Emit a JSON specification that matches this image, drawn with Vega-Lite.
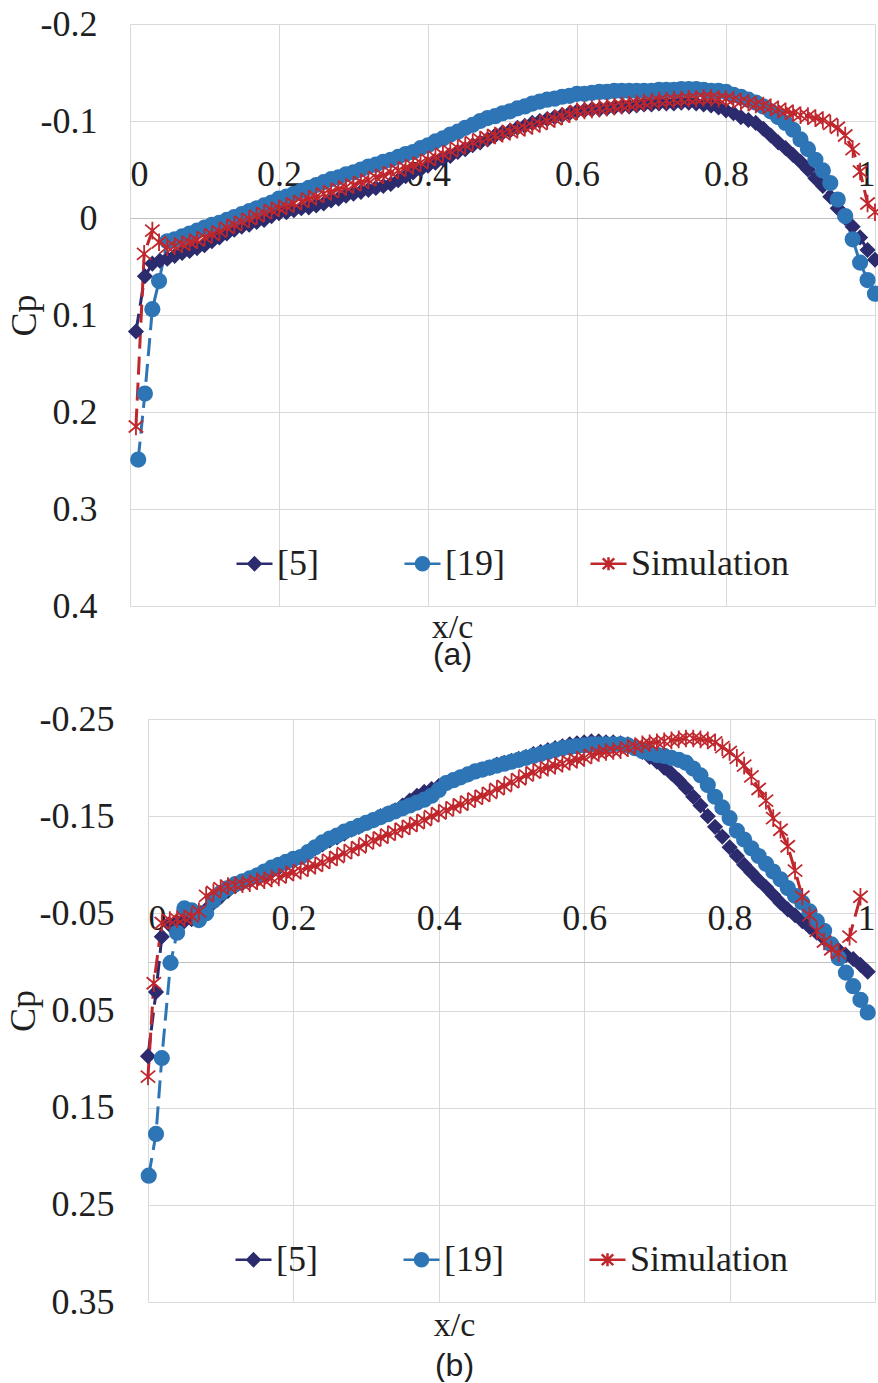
{
"$schema": "https://vega.github.io/schema/vega-lite/v6.json",
"background": "white",
"padding": {"top": 6, "left": 5, "right": 0, "bottom": 0},
"config": {"view": {"stroke": null}},
"datasets": {
"a": [
{"s":"[5]","x":0.008,"y":0.117},{"s":"[5]","x":0.02,"y":0.06},{"s":"[5]","x":0.03,"y":0.047},{"s":"[5]","x":0.04,"y":0.044},
{"s":"[5]","x":0.05,"y":0.042},{"s":"[5]","x":0.06,"y":0.039},{"s":"[5]","x":0.07,"y":0.036},{"s":"[5]","x":0.08,"y":0.034},{"s":"[5]","x":0.09,"y":0.031},
{"s":"[5]","x":0.1,"y":0.028},{"s":"[5]","x":0.11,"y":0.024},{"s":"[5]","x":0.12,"y":0.02},{"s":"[5]","x":0.13,"y":0.016},{"s":"[5]","x":0.14,"y":0.012},
{"s":"[5]","x":0.15,"y":0.009},{"s":"[5]","x":0.16,"y":0.007},{"s":"[5]","x":0.17,"y":0.004},{"s":"[5]","x":0.18,"y":0.002},{"s":"[5]","x":0.19,"y":-0.002},
{"s":"[5]","x":0.2,"y":-0.005},{"s":"[5]","x":0.21,"y":-0.006},{"s":"[5]","x":0.22,"y":-0.008},{"s":"[5]","x":0.23,"y":-0.01},{"s":"[5]","x":0.24,"y":-0.011},
{"s":"[5]","x":0.25,"y":-0.013},{"s":"[5]","x":0.26,"y":-0.015},{"s":"[5]","x":0.27,"y":-0.018},{"s":"[5]","x":0.28,"y":-0.02},{"s":"[5]","x":0.29,"y":-0.023},
{"s":"[5]","x":0.3,"y":-0.025},{"s":"[5]","x":0.31,"y":-0.027},{"s":"[5]","x":0.32,"y":-0.029},{"s":"[5]","x":0.33,"y":-0.031},{"s":"[5]","x":0.34,"y":-0.033},
{"s":"[5]","x":0.35,"y":-0.035},{"s":"[5]","x":0.36,"y":-0.039},{"s":"[5]","x":0.37,"y":-0.043},{"s":"[5]","x":0.38,"y":-0.047},{"s":"[5]","x":0.39,"y":-0.05},
{"s":"[5]","x":0.4,"y":-0.054},{"s":"[5]","x":0.41,"y":-0.057},{"s":"[5]","x":0.42,"y":-0.061},{"s":"[5]","x":0.43,"y":-0.064},{"s":"[5]","x":0.44,"y":-0.068},
{"s":"[5]","x":0.45,"y":-0.071},{"s":"[5]","x":0.46,"y":-0.075},{"s":"[5]","x":0.47,"y":-0.078},{"s":"[5]","x":0.48,"y":-0.081},{"s":"[5]","x":0.49,"y":-0.085},
{"s":"[5]","x":0.5,"y":-0.088},{"s":"[5]","x":0.51,"y":-0.09},{"s":"[5]","x":0.52,"y":-0.093},{"s":"[5]","x":0.53,"y":-0.095},{"s":"[5]","x":0.54,"y":-0.098},
{"s":"[5]","x":0.55,"y":-0.1},{"s":"[5]","x":0.56,"y":-0.102},{"s":"[5]","x":0.57,"y":-0.104},{"s":"[5]","x":0.58,"y":-0.106},{"s":"[5]","x":0.59,"y":-0.108},
{"s":"[5]","x":0.6,"y":-0.11},{"s":"[5]","x":0.61,"y":-0.111},{"s":"[5]","x":0.62,"y":-0.112},{"s":"[5]","x":0.63,"y":-0.112},{"s":"[5]","x":0.64,"y":-0.113},
{"s":"[5]","x":0.65,"y":-0.114},{"s":"[5]","x":0.66,"y":-0.115},{"s":"[5]","x":0.67,"y":-0.115},{"s":"[5]","x":0.68,"y":-0.116},{"s":"[5]","x":0.69,"y":-0.117},
{"s":"[5]","x":0.7,"y":-0.117},{"s":"[5]","x":0.71,"y":-0.118},{"s":"[5]","x":0.72,"y":-0.118},{"s":"[5]","x":0.73,"y":-0.118},{"s":"[5]","x":0.74,"y":-0.119},
{"s":"[5]","x":0.75,"y":-0.119},{"s":"[5]","x":0.76,"y":-0.118},{"s":"[5]","x":0.77,"y":-0.117},{"s":"[5]","x":0.78,"y":-0.116},{"s":"[5]","x":0.79,"y":-0.114},
{"s":"[5]","x":0.8,"y":-0.111},{"s":"[5]","x":0.81,"y":-0.108},{"s":"[5]","x":0.82,"y":-0.104},{"s":"[5]","x":0.83,"y":-0.101},{"s":"[5]","x":0.84,"y":-0.098},
{"s":"[5]","x":0.85,"y":-0.092},{"s":"[5]","x":0.86,"y":-0.085},{"s":"[5]","x":0.87,"y":-0.078},{"s":"[5]","x":0.88,"y":-0.072},{"s":"[5]","x":0.89,"y":-0.065},
{"s":"[5]","x":0.9,"y":-0.058},{"s":"[5]","x":0.91,"y":-0.05},{"s":"[5]","x":0.92,"y":-0.041},{"s":"[5]","x":0.93,"y":-0.033},{"s":"[5]","x":0.94,"y":-0.022},
{"s":"[5]","x":0.95,"y":-0.01},{"s":"[5]","x":0.96,"y":0.0},{"s":"[5]","x":0.97,"y":0.009},{"s":"[5]","x":0.98,"y":0.02},{"s":"[5]","x":0.99,"y":0.033},{"s":"[5]","x":1.0,"y":0.043},
{"s":"[19]","x":0.011,"y":0.249},{"s":"[19]","x":0.02,"y":0.181},{"s":"[19]","x":0.03,"y":0.094},{"s":"[19]","x":0.039,"y":0.065},
{"s":"[19]","x":0.05,"y":0.024},{"s":"[19]","x":0.06,"y":0.022},{"s":"[19]","x":0.07,"y":0.019},{"s":"[19]","x":0.08,"y":0.016},{"s":"[19]","x":0.09,"y":0.013},
{"s":"[19]","x":0.1,"y":0.01},{"s":"[19]","x":0.11,"y":0.007},{"s":"[19]","x":0.12,"y":0.005},{"s":"[19]","x":0.13,"y":0.002},{"s":"[19]","x":0.14,"y":-0.001},
{"s":"[19]","x":0.15,"y":-0.004},{"s":"[19]","x":0.16,"y":-0.007},{"s":"[19]","x":0.17,"y":-0.01},{"s":"[19]","x":0.18,"y":-0.013},{"s":"[19]","x":0.19,"y":-0.016},
{"s":"[19]","x":0.2,"y":-0.02},{"s":"[19]","x":0.21,"y":-0.022},{"s":"[19]","x":0.22,"y":-0.025},{"s":"[19]","x":0.23,"y":-0.028},{"s":"[19]","x":0.24,"y":-0.031},
{"s":"[19]","x":0.25,"y":-0.034},{"s":"[19]","x":0.26,"y":-0.037},{"s":"[19]","x":0.27,"y":-0.04},{"s":"[19]","x":0.28,"y":-0.042},{"s":"[19]","x":0.29,"y":-0.045},
{"s":"[19]","x":0.3,"y":-0.047},{"s":"[19]","x":0.31,"y":-0.05},{"s":"[19]","x":0.32,"y":-0.053},{"s":"[19]","x":0.33,"y":-0.055},{"s":"[19]","x":0.34,"y":-0.058},
{"s":"[19]","x":0.35,"y":-0.06},{"s":"[19]","x":0.36,"y":-0.063},{"s":"[19]","x":0.37,"y":-0.066},{"s":"[19]","x":0.38,"y":-0.068},{"s":"[19]","x":0.39,"y":-0.072},
{"s":"[19]","x":0.4,"y":-0.075},{"s":"[19]","x":0.41,"y":-0.079},{"s":"[19]","x":0.42,"y":-0.082},{"s":"[19]","x":0.43,"y":-0.086},{"s":"[19]","x":0.44,"y":-0.089},
{"s":"[19]","x":0.45,"y":-0.093},{"s":"[19]","x":0.46,"y":-0.096},{"s":"[19]","x":0.47,"y":-0.1},{"s":"[19]","x":0.48,"y":-0.103},{"s":"[19]","x":0.49,"y":-0.105},
{"s":"[19]","x":0.5,"y":-0.108},{"s":"[19]","x":0.51,"y":-0.11},{"s":"[19]","x":0.52,"y":-0.113},{"s":"[19]","x":0.53,"y":-0.115},{"s":"[19]","x":0.54,"y":-0.118},
{"s":"[19]","x":0.55,"y":-0.12},{"s":"[19]","x":0.56,"y":-0.122},{"s":"[19]","x":0.57,"y":-0.123},{"s":"[19]","x":0.58,"y":-0.125},{"s":"[19]","x":0.59,"y":-0.126},
{"s":"[19]","x":0.6,"y":-0.128},{"s":"[19]","x":0.61,"y":-0.128},{"s":"[19]","x":0.62,"y":-0.129},{"s":"[19]","x":0.63,"y":-0.13},{"s":"[19]","x":0.64,"y":-0.13},
{"s":"[19]","x":0.65,"y":-0.131},{"s":"[19]","x":0.66,"y":-0.131},{"s":"[19]","x":0.67,"y":-0.131},{"s":"[19]","x":0.68,"y":-0.131},{"s":"[19]","x":0.69,"y":-0.131},
{"s":"[19]","x":0.7,"y":-0.131},{"s":"[19]","x":0.71,"y":-0.132},{"s":"[19]","x":0.72,"y":-0.132},{"s":"[19]","x":0.73,"y":-0.132},{"s":"[19]","x":0.74,"y":-0.133},
{"s":"[19]","x":0.75,"y":-0.133},{"s":"[19]","x":0.76,"y":-0.133},{"s":"[19]","x":0.77,"y":-0.132},{"s":"[19]","x":0.78,"y":-0.131},{"s":"[19]","x":0.79,"y":-0.131},
{"s":"[19]","x":0.8,"y":-0.13},{"s":"[19]","x":0.81,"y":-0.127},{"s":"[19]","x":0.82,"y":-0.125},{"s":"[19]","x":0.83,"y":-0.122},{"s":"[19]","x":0.84,"y":-0.119},
{"s":"[19]","x":0.85,"y":-0.115},{"s":"[19]","x":0.86,"y":-0.11},{"s":"[19]","x":0.87,"y":-0.104},{"s":"[19]","x":0.88,"y":-0.098},{"s":"[19]","x":0.89,"y":-0.091},
{"s":"[19]","x":0.9,"y":-0.081},{"s":"[19]","x":0.91,"y":-0.071},{"s":"[19]","x":0.92,"y":-0.06},{"s":"[19]","x":0.93,"y":-0.049},{"s":"[19]","x":0.94,"y":-0.036},
{"s":"[19]","x":0.95,"y":-0.019},{"s":"[19]","x":0.96,"y":-0.002},{"s":"[19]","x":0.97,"y":0.022},{"s":"[19]","x":0.98,"y":0.046},{"s":"[19]","x":0.99,"y":0.064},{"s":"[19]","x":1.0,"y":0.078},
{"s":"Simulation","x":0.008,"y":0.215},{"s":"Simulation","x":0.019,"y":0.037},{"s":"Simulation","x":0.03,"y":0.013},{"s":"Simulation","x":0.039,"y":0.025},
{"s":"Simulation","x":0.05,"y":0.03},{"s":"Simulation","x":0.06,"y":0.029},{"s":"Simulation","x":0.07,"y":0.027},{"s":"Simulation","x":0.08,"y":0.025},{"s":"Simulation","x":0.09,"y":0.023},
{"s":"Simulation","x":0.1,"y":0.02},{"s":"Simulation","x":0.11,"y":0.017},{"s":"Simulation","x":0.12,"y":0.014},{"s":"Simulation","x":0.13,"y":0.01},{"s":"Simulation","x":0.14,"y":0.007},
{"s":"Simulation","x":0.15,"y":0.004},{"s":"Simulation","x":0.16,"y":0.001},{"s":"Simulation","x":0.17,"y":-0.002},{"s":"Simulation","x":0.18,"y":-0.005},{"s":"Simulation","x":0.19,"y":-0.008},
{"s":"Simulation","x":0.2,"y":-0.01},{"s":"Simulation","x":0.21,"y":-0.012},{"s":"Simulation","x":0.22,"y":-0.015},{"s":"Simulation","x":0.23,"y":-0.017},{"s":"Simulation","x":0.24,"y":-0.02},
{"s":"Simulation","x":0.25,"y":-0.022},{"s":"Simulation","x":0.26,"y":-0.025},{"s":"Simulation","x":0.27,"y":-0.027},{"s":"Simulation","x":0.28,"y":-0.03},{"s":"Simulation","x":0.29,"y":-0.032},
{"s":"Simulation","x":0.3,"y":-0.034},{"s":"Simulation","x":0.31,"y":-0.037},{"s":"Simulation","x":0.32,"y":-0.039},{"s":"Simulation","x":0.33,"y":-0.042},{"s":"Simulation","x":0.34,"y":-0.044},
{"s":"Simulation","x":0.35,"y":-0.047},{"s":"Simulation","x":0.36,"y":-0.049},{"s":"Simulation","x":0.37,"y":-0.052},{"s":"Simulation","x":0.38,"y":-0.054},{"s":"Simulation","x":0.39,"y":-0.057},
{"s":"Simulation","x":0.4,"y":-0.06},{"s":"Simulation","x":0.41,"y":-0.063},{"s":"Simulation","x":0.42,"y":-0.066},{"s":"Simulation","x":0.43,"y":-0.069},{"s":"Simulation","x":0.44,"y":-0.072},
{"s":"Simulation","x":0.45,"y":-0.075},{"s":"Simulation","x":0.46,"y":-0.078},{"s":"Simulation","x":0.47,"y":-0.081},{"s":"Simulation","x":0.48,"y":-0.083},{"s":"Simulation","x":0.49,"y":-0.085},
{"s":"Simulation","x":0.5,"y":-0.087},{"s":"Simulation","x":0.51,"y":-0.089},{"s":"Simulation","x":0.52,"y":-0.091},{"s":"Simulation","x":0.53,"y":-0.093},{"s":"Simulation","x":0.54,"y":-0.095},
{"s":"Simulation","x":0.55,"y":-0.097},{"s":"Simulation","x":0.56,"y":-0.1},{"s":"Simulation","x":0.57,"y":-0.102},{"s":"Simulation","x":0.58,"y":-0.105},{"s":"Simulation","x":0.59,"y":-0.107},
{"s":"Simulation","x":0.6,"y":-0.11},{"s":"Simulation","x":0.61,"y":-0.111},{"s":"Simulation","x":0.62,"y":-0.112},{"s":"Simulation","x":0.63,"y":-0.113},{"s":"Simulation","x":0.64,"y":-0.114},
{"s":"Simulation","x":0.65,"y":-0.115},{"s":"Simulation","x":0.66,"y":-0.116},{"s":"Simulation","x":0.67,"y":-0.117},{"s":"Simulation","x":0.68,"y":-0.118},{"s":"Simulation","x":0.69,"y":-0.119},
{"s":"Simulation","x":0.7,"y":-0.12},{"s":"Simulation","x":0.71,"y":-0.121},{"s":"Simulation","x":0.72,"y":-0.121},{"s":"Simulation","x":0.73,"y":-0.122},{"s":"Simulation","x":0.74,"y":-0.122},
{"s":"Simulation","x":0.75,"y":-0.123},{"s":"Simulation","x":0.76,"y":-0.123},{"s":"Simulation","x":0.77,"y":-0.124},{"s":"Simulation","x":0.78,"y":-0.124},{"s":"Simulation","x":0.79,"y":-0.123},
{"s":"Simulation","x":0.8,"y":-0.123},{"s":"Simulation","x":0.81,"y":-0.122},{"s":"Simulation","x":0.82,"y":-0.12},{"s":"Simulation","x":0.83,"y":-0.119},{"s":"Simulation","x":0.84,"y":-0.117},
{"s":"Simulation","x":0.85,"y":-0.116},{"s":"Simulation","x":0.86,"y":-0.114},{"s":"Simulation","x":0.87,"y":-0.112},{"s":"Simulation","x":0.88,"y":-0.11},{"s":"Simulation","x":0.89,"y":-0.108},
{"s":"Simulation","x":0.9,"y":-0.106},{"s":"Simulation","x":0.91,"y":-0.105},{"s":"Simulation","x":0.92,"y":-0.103},{"s":"Simulation","x":0.93,"y":-0.101},{"s":"Simulation","x":0.94,"y":-0.097},
{"s":"Simulation","x":0.95,"y":-0.093},{"s":"Simulation","x":0.96,"y":-0.085},{"s":"Simulation","x":0.97,"y":-0.071},{"s":"Simulation","x":0.98,"y":-0.048},{"s":"Simulation","x":0.99,"y":-0.015},{"s":"Simulation","x":1.0,"y":-0.006}
],
"b": [
{"s":"[5]","x":0.0,"y":0.097},{"s":"[5]","x":0.011,"y":0.031},{"s":"[5]","x":0.019,"y":-0.026},{"s":"[5]","x":0.03,"y":-0.038},{"s":"[5]","x":0.04,"y":-0.041},
{"s":"[5]","x":0.05,"y":-0.042},{"s":"[5]","x":0.06,"y":-0.044},{"s":"[5]","x":0.07,"y":-0.047},{"s":"[5]","x":0.08,"y":-0.054},{"s":"[5]","x":0.09,"y":-0.061},
{"s":"[5]","x":0.1,"y":-0.067},{"s":"[5]","x":0.11,"y":-0.073},{"s":"[5]","x":0.12,"y":-0.078},{"s":"[5]","x":0.13,"y":-0.081},{"s":"[5]","x":0.14,"y":-0.084},
{"s":"[5]","x":0.15,"y":-0.087},{"s":"[5]","x":0.16,"y":-0.09},{"s":"[5]","x":0.17,"y":-0.094},{"s":"[5]","x":0.18,"y":-0.097},{"s":"[5]","x":0.19,"y":-0.101},
{"s":"[5]","x":0.2,"y":-0.104},{"s":"[5]","x":0.21,"y":-0.108},{"s":"[5]","x":0.22,"y":-0.113},{"s":"[5]","x":0.23,"y":-0.117},{"s":"[5]","x":0.24,"y":-0.121},
{"s":"[5]","x":0.25,"y":-0.125},{"s":"[5]","x":0.26,"y":-0.128},{"s":"[5]","x":0.27,"y":-0.132},{"s":"[5]","x":0.28,"y":-0.136},{"s":"[5]","x":0.29,"y":-0.139},
{"s":"[5]","x":0.3,"y":-0.143},{"s":"[5]","x":0.31,"y":-0.146},{"s":"[5]","x":0.32,"y":-0.15},{"s":"[5]","x":0.33,"y":-0.153},{"s":"[5]","x":0.34,"y":-0.156},
{"s":"[5]","x":0.35,"y":-0.161},{"s":"[5]","x":0.36,"y":-0.166},{"s":"[5]","x":0.37,"y":-0.171},{"s":"[5]","x":0.38,"y":-0.175},{"s":"[5]","x":0.39,"y":-0.178},
{"s":"[5]","x":0.4,"y":-0.181},{"s":"[5]","x":0.41,"y":-0.184},{"s":"[5]","x":0.42,"y":-0.187},{"s":"[5]","x":0.43,"y":-0.19},{"s":"[5]","x":0.44,"y":-0.193},
{"s":"[5]","x":0.45,"y":-0.196},{"s":"[5]","x":0.46,"y":-0.198},{"s":"[5]","x":0.47,"y":-0.2},{"s":"[5]","x":0.48,"y":-0.203},{"s":"[5]","x":0.49,"y":-0.205},
{"s":"[5]","x":0.5,"y":-0.207},{"s":"[5]","x":0.51,"y":-0.209},{"s":"[5]","x":0.52,"y":-0.211},{"s":"[5]","x":0.53,"y":-0.214},{"s":"[5]","x":0.54,"y":-0.216},
{"s":"[5]","x":0.55,"y":-0.218},{"s":"[5]","x":0.56,"y":-0.22},{"s":"[5]","x":0.57,"y":-0.222},{"s":"[5]","x":0.58,"y":-0.224},{"s":"[5]","x":0.59,"y":-0.225},
{"s":"[5]","x":0.6,"y":-0.226},{"s":"[5]","x":0.61,"y":-0.227},{"s":"[5]","x":0.62,"y":-0.227},{"s":"[5]","x":0.63,"y":-0.226},{"s":"[5]","x":0.64,"y":-0.226},
{"s":"[5]","x":0.65,"y":-0.225},{"s":"[5]","x":0.66,"y":-0.224},{"s":"[5]","x":0.67,"y":-0.221},{"s":"[5]","x":0.68,"y":-0.216},{"s":"[5]","x":0.69,"y":-0.211},
{"s":"[5]","x":0.7,"y":-0.206},{"s":"[5]","x":0.71,"y":-0.2},{"s":"[5]","x":0.72,"y":-0.194},{"s":"[5]","x":0.73,"y":-0.187},{"s":"[5]","x":0.74,"y":-0.179},
{"s":"[5]","x":0.75,"y":-0.17},{"s":"[5]","x":0.76,"y":-0.161},{"s":"[5]","x":0.77,"y":-0.15},{"s":"[5]","x":0.78,"y":-0.139},{"s":"[5]","x":0.79,"y":-0.129},
{"s":"[5]","x":0.8,"y":-0.118},{"s":"[5]","x":0.81,"y":-0.109},{"s":"[5]","x":0.82,"y":-0.1},{"s":"[5]","x":0.83,"y":-0.092},{"s":"[5]","x":0.84,"y":-0.084},
{"s":"[5]","x":0.85,"y":-0.077},{"s":"[5]","x":0.86,"y":-0.069},{"s":"[5]","x":0.87,"y":-0.061},{"s":"[5]","x":0.88,"y":-0.054},{"s":"[5]","x":0.89,"y":-0.048},
{"s":"[5]","x":0.9,"y":-0.042},{"s":"[5]","x":0.91,"y":-0.036},{"s":"[5]","x":0.92,"y":-0.03},{"s":"[5]","x":0.93,"y":-0.024},{"s":"[5]","x":0.94,"y":-0.018},
{"s":"[5]","x":0.95,"y":-0.012},{"s":"[5]","x":0.96,"y":-0.007},{"s":"[5]","x":0.97,"y":-0.003},{"s":"[5]","x":0.98,"y":0.003},{"s":"[5]","x":0.99,"y":0.01},
{"s":"[19]","x":0.001,"y":0.22},{"s":"[19]","x":0.011,"y":0.177},{"s":"[19]","x":0.019,"y":0.099},{"s":"[19]","x":0.031,"y":0.001},{"s":"[19]","x":0.04,"y":-0.03},
{"s":"[19]","x":0.05,"y":-0.055},{"s":"[19]","x":0.06,"y":-0.053},{"s":"[19]","x":0.07,"y":-0.043},{"s":"[19]","x":0.08,"y":-0.05},{"s":"[19]","x":0.09,"y":-0.063},
{"s":"[19]","x":0.1,"y":-0.071},{"s":"[19]","x":0.11,"y":-0.076},{"s":"[19]","x":0.12,"y":-0.08},{"s":"[19]","x":0.13,"y":-0.083},{"s":"[19]","x":0.14,"y":-0.086},
{"s":"[19]","x":0.15,"y":-0.089},{"s":"[19]","x":0.16,"y":-0.093},{"s":"[19]","x":0.17,"y":-0.097},{"s":"[19]","x":0.18,"y":-0.1},{"s":"[19]","x":0.19,"y":-0.103},
{"s":"[19]","x":0.2,"y":-0.106},{"s":"[19]","x":0.21,"y":-0.108},{"s":"[19]","x":0.22,"y":-0.113},{"s":"[19]","x":0.23,"y":-0.118},{"s":"[19]","x":0.24,"y":-0.123},
{"s":"[19]","x":0.25,"y":-0.127},{"s":"[19]","x":0.26,"y":-0.13},{"s":"[19]","x":0.27,"y":-0.134},{"s":"[19]","x":0.28,"y":-0.137},{"s":"[19]","x":0.29,"y":-0.14},
{"s":"[19]","x":0.3,"y":-0.143},{"s":"[19]","x":0.31,"y":-0.146},{"s":"[19]","x":0.32,"y":-0.149},{"s":"[19]","x":0.33,"y":-0.152},{"s":"[19]","x":0.34,"y":-0.155},
{"s":"[19]","x":0.35,"y":-0.158},{"s":"[19]","x":0.36,"y":-0.161},{"s":"[19]","x":0.37,"y":-0.164},{"s":"[19]","x":0.38,"y":-0.167},{"s":"[19]","x":0.39,"y":-0.171},
{"s":"[19]","x":0.4,"y":-0.177},{"s":"[19]","x":0.41,"y":-0.184},{"s":"[19]","x":0.42,"y":-0.187},{"s":"[19]","x":0.43,"y":-0.19},{"s":"[19]","x":0.44,"y":-0.193},
{"s":"[19]","x":0.45,"y":-0.196},{"s":"[19]","x":0.46,"y":-0.198},{"s":"[19]","x":0.47,"y":-0.2},{"s":"[19]","x":0.48,"y":-0.202},{"s":"[19]","x":0.49,"y":-0.204},
{"s":"[19]","x":0.5,"y":-0.206},{"s":"[19]","x":0.51,"y":-0.208},{"s":"[19]","x":0.52,"y":-0.21},{"s":"[19]","x":0.53,"y":-0.212},{"s":"[19]","x":0.54,"y":-0.214},
{"s":"[19]","x":0.55,"y":-0.216},{"s":"[19]","x":0.56,"y":-0.218},{"s":"[19]","x":0.57,"y":-0.22},{"s":"[19]","x":0.58,"y":-0.221},{"s":"[19]","x":0.59,"y":-0.222},
{"s":"[19]","x":0.6,"y":-0.223},{"s":"[19]","x":0.61,"y":-0.224},{"s":"[19]","x":0.62,"y":-0.224},{"s":"[19]","x":0.63,"y":-0.224},{"s":"[19]","x":0.64,"y":-0.224},
{"s":"[19]","x":0.65,"y":-0.224},{"s":"[19]","x":0.66,"y":-0.223},{"s":"[19]","x":0.67,"y":-0.22},{"s":"[19]","x":0.68,"y":-0.217},{"s":"[19]","x":0.69,"y":-0.215},
{"s":"[19]","x":0.7,"y":-0.213},{"s":"[19]","x":0.71,"y":-0.212},{"s":"[19]","x":0.72,"y":-0.21},{"s":"[19]","x":0.73,"y":-0.208},{"s":"[19]","x":0.74,"y":-0.205},
{"s":"[19]","x":0.75,"y":-0.199},{"s":"[19]","x":0.76,"y":-0.192},{"s":"[19]","x":0.77,"y":-0.182},{"s":"[19]","x":0.78,"y":-0.17},{"s":"[19]","x":0.79,"y":-0.159},
{"s":"[19]","x":0.8,"y":-0.148},{"s":"[19]","x":0.81,"y":-0.135},{"s":"[19]","x":0.82,"y":-0.126},{"s":"[19]","x":0.83,"y":-0.117},{"s":"[19]","x":0.84,"y":-0.109},
{"s":"[19]","x":0.85,"y":-0.101},{"s":"[19]","x":0.86,"y":-0.093},{"s":"[19]","x":0.87,"y":-0.085},{"s":"[19]","x":0.88,"y":-0.076},{"s":"[19]","x":0.89,"y":-0.068},
{"s":"[19]","x":0.9,"y":-0.061},{"s":"[19]","x":0.91,"y":-0.052},{"s":"[19]","x":0.92,"y":-0.042},{"s":"[19]","x":0.93,"y":-0.032},{"s":"[19]","x":0.94,"y":-0.018},
{"s":"[19]","x":0.95,"y":-0.004},{"s":"[19]","x":0.96,"y":0.011},{"s":"[19]","x":0.97,"y":0.025},{"s":"[19]","x":0.98,"y":0.039},{"s":"[19]","x":0.99,"y":0.052},
{"s":"Simulation","x":0.0,"y":0.118},{"s":"Simulation","x":0.008,"y":0.022},{"s":"Simulation","x":0.019,"y":-0.04},{"s":"Simulation","x":0.03,"y":-0.043},{"s":"Simulation","x":0.04,"y":-0.044},
{"s":"Simulation","x":0.05,"y":-0.045},{"s":"Simulation","x":0.06,"y":-0.047},{"s":"Simulation","x":0.07,"y":-0.052},{"s":"Simulation","x":0.08,"y":-0.068},{"s":"Simulation","x":0.09,"y":-0.072},
{"s":"Simulation","x":0.1,"y":-0.076},{"s":"Simulation","x":0.11,"y":-0.078},{"s":"Simulation","x":0.12,"y":-0.079},{"s":"Simulation","x":0.13,"y":-0.08},{"s":"Simulation","x":0.14,"y":-0.081},
{"s":"Simulation","x":0.15,"y":-0.083},{"s":"Simulation","x":0.16,"y":-0.084},{"s":"Simulation","x":0.17,"y":-0.086},{"s":"Simulation","x":0.18,"y":-0.087},{"s":"Simulation","x":0.19,"y":-0.09},
{"s":"Simulation","x":0.2,"y":-0.092},{"s":"Simulation","x":0.21,"y":-0.094},{"s":"Simulation","x":0.22,"y":-0.097},{"s":"Simulation","x":0.23,"y":-0.099},{"s":"Simulation","x":0.24,"y":-0.102},
{"s":"Simulation","x":0.25,"y":-0.105},{"s":"Simulation","x":0.26,"y":-0.108},{"s":"Simulation","x":0.27,"y":-0.112},{"s":"Simulation","x":0.28,"y":-0.115},{"s":"Simulation","x":0.29,"y":-0.118},
{"s":"Simulation","x":0.3,"y":-0.122},{"s":"Simulation","x":0.31,"y":-0.125},{"s":"Simulation","x":0.32,"y":-0.128},{"s":"Simulation","x":0.33,"y":-0.131},{"s":"Simulation","x":0.34,"y":-0.134},
{"s":"Simulation","x":0.35,"y":-0.137},{"s":"Simulation","x":0.36,"y":-0.14},{"s":"Simulation","x":0.37,"y":-0.143},{"s":"Simulation","x":0.38,"y":-0.146},{"s":"Simulation","x":0.39,"y":-0.15},
{"s":"Simulation","x":0.4,"y":-0.153},{"s":"Simulation","x":0.41,"y":-0.156},{"s":"Simulation","x":0.42,"y":-0.159},{"s":"Simulation","x":0.43,"y":-0.162},{"s":"Simulation","x":0.44,"y":-0.165},
{"s":"Simulation","x":0.45,"y":-0.168},{"s":"Simulation","x":0.46,"y":-0.171},{"s":"Simulation","x":0.47,"y":-0.174},{"s":"Simulation","x":0.48,"y":-0.178},{"s":"Simulation","x":0.49,"y":-0.181},
{"s":"Simulation","x":0.5,"y":-0.185},{"s":"Simulation","x":0.51,"y":-0.188},{"s":"Simulation","x":0.52,"y":-0.192},{"s":"Simulation","x":0.53,"y":-0.195},{"s":"Simulation","x":0.54,"y":-0.198},
{"s":"Simulation","x":0.55,"y":-0.2},{"s":"Simulation","x":0.56,"y":-0.202},{"s":"Simulation","x":0.57,"y":-0.204},{"s":"Simulation","x":0.58,"y":-0.206},{"s":"Simulation","x":0.59,"y":-0.208},
{"s":"Simulation","x":0.6,"y":-0.21},{"s":"Simulation","x":0.61,"y":-0.213},{"s":"Simulation","x":0.62,"y":-0.215},{"s":"Simulation","x":0.63,"y":-0.216},{"s":"Simulation","x":0.64,"y":-0.217},
{"s":"Simulation","x":0.65,"y":-0.218},{"s":"Simulation","x":0.66,"y":-0.22},{"s":"Simulation","x":0.67,"y":-0.222},{"s":"Simulation","x":0.68,"y":-0.224},{"s":"Simulation","x":0.69,"y":-0.225},
{"s":"Simulation","x":0.7,"y":-0.226},{"s":"Simulation","x":0.71,"y":-0.227},{"s":"Simulation","x":0.72,"y":-0.228},{"s":"Simulation","x":0.73,"y":-0.229},{"s":"Simulation","x":0.74,"y":-0.23},
{"s":"Simulation","x":0.75,"y":-0.23},{"s":"Simulation","x":0.76,"y":-0.229},{"s":"Simulation","x":0.77,"y":-0.228},{"s":"Simulation","x":0.78,"y":-0.226},{"s":"Simulation","x":0.79,"y":-0.221},
{"s":"Simulation","x":0.8,"y":-0.216},{"s":"Simulation","x":0.81,"y":-0.21},{"s":"Simulation","x":0.82,"y":-0.202},{"s":"Simulation","x":0.83,"y":-0.191},{"s":"Simulation","x":0.84,"y":-0.178},
{"s":"Simulation","x":0.85,"y":-0.166},{"s":"Simulation","x":0.86,"y":-0.148},{"s":"Simulation","x":0.87,"y":-0.136},{"s":"Simulation","x":0.88,"y":-0.119},{"s":"Simulation","x":0.89,"y":-0.094},
{"s":"Simulation","x":0.9,"y":-0.067},{"s":"Simulation","x":0.91,"y":-0.048},{"s":"Simulation","x":0.92,"y":-0.032},{"s":"Simulation","x":0.93,"y":-0.021},{"s":"Simulation","x":0.94,"y":-0.013},
{"s":"Simulation","x":0.95,"y":-0.009},{"s":"Simulation","x":0.965,"y":-0.026},{"s":"Simulation","x":0.98,"y":-0.067}
]
},
"vconcat": [
{
"width": 745, "height": 582,
"data": {"name": "a"},
"title": {"text": "x/c", "subtitle": "(a)", "orient": "bottom", "anchor": "middle", "frame": "group", "offset": -13, "dx": -50,
  "font": "Liberation Serif", "fontSize": 34, "fontWeight": "normal", "color": "#1f1f1f",
  "subtitleFont": "Liberation Sans", "subtitleFontSize": 32, "subtitleColor": "#1f1f1f", "subtitlePadding": -5},
"encoding": {
  "x": {"field": "x", "type": "quantitative", "scale": {"domain": [0, 1], "nice": false, "zero": false},
    "axis": {"orient": "top", "offset": -194, "values": [0, 0.2, 0.4, 0.6, 0.8, 1], "title": null,
      "labelExpr": "datum.value == 0 ? '0' : datum.value == 1 ? '1' : format(datum.value, '.1f')",
      "ticks": false, "tickSize": 0, "domain": true, "domainColor": "#bfbfbf", "domainWidth": 1,
      "grid": true, "gridColor": "#d9d9d9", "gridWidth": 1, "labelPadding": 25, "labelAngle": 0,
      "labelFont": "Liberation Serif", "labelFontSize": 36, "labelColor": "#1f1f1f"}},
  "y": {"field": "y", "type": "quantitative", "scale": {"domain": [-0.2, 0.4], "reverse": true, "nice": false, "zero": false},
    "axis": {"values": [-0.2, -0.1, 0, 0.1, 0.2, 0.3, 0.4], "title": "Cp",
      "labelExpr": "datum.value < 0 ? '-' + format(-datum.value, '.1f') : datum.value == 0 ? '0' : format(datum.value, '.1f')",
      "domain": false, "ticks": false, "grid": true, "gridColor": "#d9d9d9", "gridWidth": 1, "labelPadding": 33,
      "labelFont": "Liberation Serif", "labelFontSize": 36, "labelColor": "#1f1f1f",
      "titleFont": "Liberation Serif", "titleFontSize": 36, "titleFontWeight": "normal", "titleColor": "#1f1f1f", "titlePadding": -3}}
},
"layer": [
  {"mark": {"type": "line", "strokeDash": [18, 8], "strokeWidth": 3},
   "encoding": {"stroke": {"field": "s", "type": "nominal", "scale": {"domain": ["[5]", "[19]", "Simulation"], "range": ["#2b2b6e", "#2e75b6", "#c0272d"]}, "legend": null}}},
  {"mark": {"type": "point", "filled": true, "opacity": 1, "strokeWidth": 1.8, "size": 256},
   "encoding": {
     "fill": {"field": "s", "type": "nominal", "scale": {"domain": ["[5]", "[19]", "Simulation"], "range": ["#2b2b6e", "#2e75b6", "#c0272d"]}, "legend": null},
     "stroke": {"field": "s", "type": "nominal", "scale": {"domain": ["[5]", "[19]", "Simulation"], "range": ["#2b2b6e", "#2e75b6", "#c0272d"]}, "legend": null},
     "shape": {"field": "s", "type": "nominal", "scale": {"domain": ["[5]", "[19]", "Simulation"], "range": ["M0,-0.85L0.85,0L0,0.85L-0.85,0Z", "M0.9,0A0.9,0.9,0,1,1,-0.9,0A0.9,0.9,0,1,1,0.9,0Z", "M0,-1.1V1.1M-0.9,-0.75L0.9,0.75M-0.9,0.75L0.9,-0.75"]}, "legend": null}
   }},
  {"transform": [{"filter": "datum.x == 0.5"}],
   "mark": {"type": "point", "filled": true, "opacity": 0},
   "encoding": {
     "shape": {"field": "s", "type": "nominal", "scale": {"domain": ["[5]", "[19]", "Simulation"], "range": ["M-1,0H1M0,-0.34L0.34,0L0,0.34L-0.34,0Z", "M-1,0H1M0.36,0A0.36,0.36,0,1,1,-0.36,0A0.36,0.36,0,1,1,0.36,0Z", "M-1,0H1M0,-0.36V0.36M-0.32,-0.3L0.32,0.3M-0.32,0.3L0.32,-0.3"]},
       "legend": {"orient": "none", "legendX": 105, "legendY": 520, "direction": "horizontal", "title": null, "padding": 0, "symbolSize": 1296, "symbolStrokeWidth": 2.5, "symbolOpacity": 1, "labelFont": "Liberation Serif", "labelFontSize": 36, "labelColor": "#1f1f1f", "labelOffset": 3, "columnPadding": 80}},
     "fill": {"field": "s", "type": "nominal", "scale": {"domain": ["[5]", "[19]", "Simulation"], "range": ["#2b2b6e", "#2e75b6", "#c0272d"]},
       "legend": {"orient": "none", "legendX": 105, "legendY": 520, "direction": "horizontal", "title": null, "padding": 0, "symbolSize": 1296, "symbolStrokeWidth": 2.5, "symbolOpacity": 1, "labelFont": "Liberation Serif", "labelFontSize": 36, "labelColor": "#1f1f1f", "labelOffset": 3, "columnPadding": 80}},
     "stroke": {"field": "s", "type": "nominal", "scale": {"domain": ["[5]", "[19]", "Simulation"], "range": ["#2b2b6e", "#2e75b6", "#c0272d"]},
       "legend": {"orient": "none", "legendX": 105, "legendY": 520, "direction": "horizontal", "title": null, "padding": 0, "symbolSize": 1296, "symbolStrokeWidth": 2.5, "symbolOpacity": 1, "labelFont": "Liberation Serif", "labelFontSize": 36, "labelColor": "#1f1f1f", "labelOffset": 3, "columnPadding": 80}}
   }}
],
"resolve": {"scale": {"fill": "independent", "stroke": "independent", "shape": "independent"}}
},
{
"width": 745, "height": 583,
"data": {"name": "b"},
"title": {"text": "x/c", "subtitle": "(b)", "orient": "bottom", "anchor": "middle", "frame": "group", "offset": -11, "dx": -48,
  "font": "Liberation Serif", "fontSize": 34, "fontWeight": "normal", "color": "#1f1f1f",
  "subtitleFont": "Liberation Sans", "subtitleFontSize": 32, "subtitleColor": "#1f1f1f", "subtitlePadding": 8},
"encoding": {
  "x": {"field": "x", "type": "quantitative", "scale": {"domain": [0, 1], "range": [18, 745], "nice": false, "zero": false},
    "axis": {"orient": "top", "offset": -243, "values": [0, 0.2, 0.4, 0.6, 0.8, 1], "title": null,
      "labelExpr": "datum.value == 0 ? '0' : datum.value == 1 ? '1' : format(datum.value, '.1f')",
      "ticks": false, "tickSize": 0, "domain": true, "domainColor": "#bfbfbf", "domainWidth": 1,
      "grid": true, "gridColor": "#d9d9d9", "gridWidth": 1, "labelPadding": 25, "labelAngle": 0,
      "labelFont": "Liberation Serif", "labelFontSize": 36, "labelColor": "#1f1f1f"}},
  "y": {"field": "y", "type": "quantitative", "scale": {"domain": [-0.25, 0.35], "reverse": true, "nice": false, "zero": false},
    "axis": {"values": [-0.25, -0.15, -0.05, 0.05, 0.15, 0.25, 0.35], "title": "Cp",
      "labelExpr": "datum.value < 0 ? '-' + format(-datum.value, '.2f') : format(datum.value, '.2f')",
      "domain": false, "ticks": false, "grid": true, "gridColor": "#d9d9d9", "gridWidth": 1, "labelPadding": 16,
      "labelFont": "Liberation Serif", "labelFontSize": 36, "labelColor": "#1f1f1f",
      "titleFont": "Liberation Serif", "titleFontSize": 36, "titleFontWeight": "normal", "titleColor": "#1f1f1f", "titlePadding": -3}}
},
"layer": [
  {"mark": {"type": "line", "strokeDash": [18, 8], "strokeWidth": 3},
   "encoding": {"stroke": {"field": "s", "type": "nominal", "scale": {"domain": ["[5]", "[19]", "Simulation"], "range": ["#2b2b6e", "#2e75b6", "#c0272d"]}, "legend": null}}},
  {"mark": {"type": "point", "filled": true, "opacity": 1, "strokeWidth": 1.8, "size": 256},
   "encoding": {
     "fill": {"field": "s", "type": "nominal", "scale": {"domain": ["[5]", "[19]", "Simulation"], "range": ["#2b2b6e", "#2e75b6", "#c0272d"]}, "legend": null},
     "stroke": {"field": "s", "type": "nominal", "scale": {"domain": ["[5]", "[19]", "Simulation"], "range": ["#2b2b6e", "#2e75b6", "#c0272d"]}, "legend": null},
     "shape": {"field": "s", "type": "nominal", "scale": {"domain": ["[5]", "[19]", "Simulation"], "range": ["M0,-0.85L0.85,0L0,0.85L-0.85,0Z", "M0.9,0A0.9,0.9,0,1,1,-0.9,0A0.9,0.9,0,1,1,0.9,0Z", "M0,-1.1V1.1M-0.9,-0.75L0.9,0.75M-0.9,0.75L0.9,-0.75"]}, "legend": null}
   }},
  {"transform": [{"filter": "datum.x == 0.5"}],
   "mark": {"type": "point", "filled": true, "opacity": 0},
   "encoding": {
     "shape": {"field": "s", "type": "nominal", "scale": {"domain": ["[5]", "[19]", "Simulation"], "range": ["M-1,0H1M0,-0.34L0.34,0L0,0.34L-0.34,0Z", "M-1,0H1M0.36,0A0.36,0.36,0,1,1,-0.36,0A0.36,0.36,0,1,1,0.36,0Z", "M-1,0H1M0,-0.36V0.36M-0.32,-0.3L0.32,0.3M-0.32,0.3L0.32,-0.3"]},
       "legend": {"orient": "none", "legendX": 104, "legendY": 521, "direction": "horizontal", "title": null, "padding": 0, "symbolSize": 1296, "symbolStrokeWidth": 2.5, "symbolOpacity": 1, "labelFont": "Liberation Serif", "labelFontSize": 36, "labelColor": "#1f1f1f", "labelOffset": 3, "columnPadding": 80}},
     "fill": {"field": "s", "type": "nominal", "scale": {"domain": ["[5]", "[19]", "Simulation"], "range": ["#2b2b6e", "#2e75b6", "#c0272d"]},
       "legend": {"orient": "none", "legendX": 104, "legendY": 521, "direction": "horizontal", "title": null, "padding": 0, "symbolSize": 1296, "symbolStrokeWidth": 2.5, "symbolOpacity": 1, "labelFont": "Liberation Serif", "labelFontSize": 36, "labelColor": "#1f1f1f", "labelOffset": 3, "columnPadding": 80}},
     "stroke": {"field": "s", "type": "nominal", "scale": {"domain": ["[5]", "[19]", "Simulation"], "range": ["#2b2b6e", "#2e75b6", "#c0272d"]},
       "legend": {"orient": "none", "legendX": 104, "legendY": 521, "direction": "horizontal", "title": null, "padding": 0, "symbolSize": 1296, "symbolStrokeWidth": 2.5, "symbolOpacity": 1, "labelFont": "Liberation Serif", "labelFontSize": 36, "labelColor": "#1f1f1f", "labelOffset": 3, "columnPadding": 80}}
   }}
],
"resolve": {"scale": {"fill": "independent", "stroke": "independent", "shape": "independent"}}
}
],
"spacing": 30,
"resolve": {"scale": {"fill": "independent", "stroke": "independent", "shape": "independent"}, "legend": {"fill": "independent", "stroke": "independent", "shape": "independent"}}
}
